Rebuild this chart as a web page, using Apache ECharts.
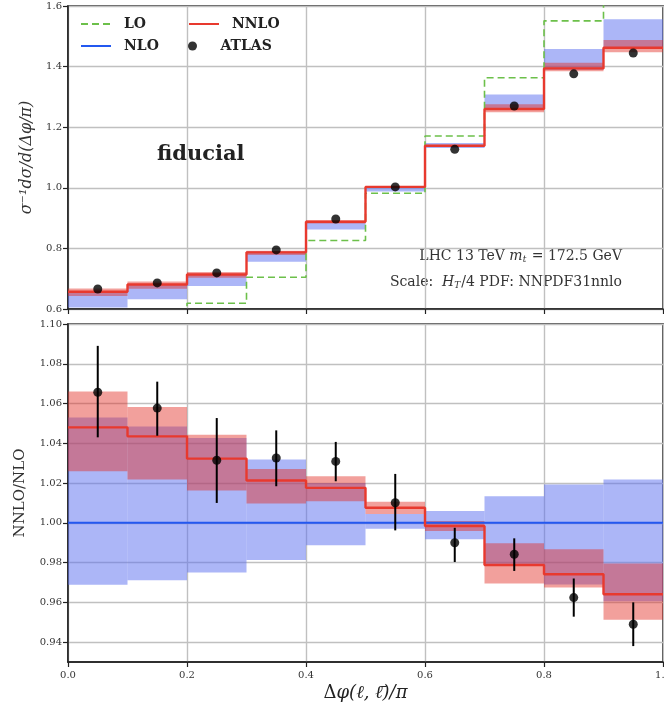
<!DOCTYPE html>
<html><head><meta charset="utf-8">
<script src="https://cdn.jsdelivr.net/npm/echarts@6/dist/echarts.min.js"></script>
<style>html,body{margin:0;padding:0;background:#fff}#c{width:664px;height:713px}</style>
</head><body><div id="c"></div>
<script>
// ---------- data ----------
const binEdges = [0, 0.1, 0.2, 0.3, 0.4, 0.5, 0.6, 0.7, 0.8, 0.9, 1.0];
const binCenters = [0.05, 0.15, 0.25, 0.35, 0.45, 0.55, 0.65, 0.75, 0.85, 0.95];

// top panel: normalised distribution
const topLO      = [0.53, 0.57, 0.619, 0.705, 0.826, 0.982, 1.171, 1.363, 1.551, 1.75];
const topNNLO    = [0.657, 0.681, 0.714, 0.787, 0.888, 1.003, 1.139, 1.260, 1.394, 1.462];
const topNNLOLo  = [0.643, 0.667, 0.703, 0.778, 0.882, 1.000, 1.136, 1.249, 1.385, 1.447];
const topNNLOHi  = [0.668, 0.691, 0.722, 0.792, 0.893, 1.006, 1.142, 1.276, 1.413, 1.488];
const topNLOLo   = [0.605, 0.632, 0.676, 0.756, 0.862, 0.988, 1.131, 1.262, 1.390, 1.460];
const topNLOHi   = [0.656, 0.680, 0.716, 0.790, 0.888, 1.001, 1.148, 1.308, 1.458, 1.556];
const topATLAS   = [0.666, 0.686, 0.719, 0.795, 0.897, 1.003, 1.127, 1.270, 1.376, 1.445];

// bottom panel: ratio to NLO
const ratioNLO     = [1, 1, 1, 1, 1, 1, 1, 1, 1, 1];
const ratioNLOLo   = [0.9688, 0.9711, 0.975, 0.9813, 0.9887, 0.997, 0.9917, 0.979, 0.969, 0.9605];
const ratioNLOHi   = [1.053, 1.0485, 1.0427, 1.0318, 1.020, 1.0045, 1.0059, 1.0134, 1.0193, 1.0218];
const ratioNNLO    = [1.048, 1.0435, 1.0323, 1.0213, 1.0176, 1.0076, 0.9984, 0.9788, 0.9741, 0.9641];
const ratioNNLOLo  = [1.026, 1.0218, 1.0163, 1.0097, 1.0109, 1.0045, 0.9959, 0.9695, 0.9675, 0.9512];
const ratioNNLOHi  = [1.066, 1.0582, 1.0443, 1.0271, 1.0234, 1.0106, 1.0009, 0.9897, 0.9867, 0.9795];
const ratioATLAS   = [1.0657, 1.0577, 1.0315, 1.0326, 1.0309, 1.0101, 0.990, 0.9842, 0.9624, 0.949];
const ratioATLASLo = [1.043, 1.0438, 1.010, 1.0184, 1.0209, 0.9962, 0.9803, 0.9758, 0.9528, 0.938];
const ratioATLASHi = [1.089, 1.071, 1.0527, 1.0465, 1.0407, 1.0246, 0.9975, 0.9922, 0.972, 0.960];

const xTicks = [0, 0.2, 0.4, 0.6, 0.8, 1.0];
const topYTicks = [0.6, 0.8, 1.0, 1.2, 1.4, 1.6];
const ratioYTicks = [0.94, 0.96, 0.98, 1.00, 1.02, 1.04, 1.06, 1.08, 1.10];

// ---------- helpers ----------
const SERIF = 'DejaVu Serif, Liberation Serif, serif';
const BLUE_BAND = 'rgba(90,110,240,0.5)';
const RED_BAND = 'rgba(226,45,36,0.45)';
const RED = '#e8392e', BLUE = '#2358f0', GREEN = '#6cc04a';

function stepData(vals) {
  const d = vals.map((v, i) => [binEdges[i], v]);
  d.push([binEdges[binEdges.length - 1], vals[vals.length - 1]]);
  return d;
}
function bandData(lo, hi) {
  return lo.map((v, i) => [binEdges[i], binEdges[i + 1], v, hi[i]]);
}
function bandRender(color) {
  return function (params, api) {
    const p0 = api.coord([api.value(0), api.value(3)]);
    const p1 = api.coord([api.value(1), api.value(2)]);
    const cs = params.coordSys;
    const r = echarts.graphic.clipRectByRect(
      { x: p0[0], y: p0[1], width: p1[0] - p0[0], height: p1[1] - p0[1] },
      { x: cs.x, y: cs.y, width: cs.width, height: cs.height });
    return r && { type: 'rect', shape: r, style: { fill: color } };
  };
}
function errRender(params, api) {
  const a = api.coord([api.value(0), api.value(1)]);
  const b = api.coord([api.value(0), api.value(2)]);
  return { type: 'line', shape: { x1: a[0], y1: a[1], x2: b[0], y2: b[1] },
           style: { stroke: '#000', lineWidth: 2 } };
}

const axisLabelStyle = { fontFamily: SERIF, fontSize: 10, color: '#333' };
const splitLineStyle = { show: true, lineStyle: { color: '#c0c0c0', width: 1.4 } };
const axisLineStyle = { show: true, lineStyle: { color: '#222', width: 1.6 } };
const legendText = { fontFamily: SERIF, fontWeight: 'bold', fontSize: 14, color: '#222', padding: [0, 0, 0, 8] };

function oneLegend(name, left, top, extra) {
  return Object.assign({ data: [name], left: left, top: top, padding: 0, itemWidth: 30, itemHeight: 12,
    textStyle: legendText, selectedMode: false }, extra || {});
}

const chart = echarts.init(document.getElementById('c'), null, { renderer: 'canvas' });
chart.setOption({
  animation: false,
  backgroundColor: '#fff',
  grid: [
    { left: 68, right: 1, top: 6, height: 303, show: true, borderColor: '#222', borderWidth: 1.6,
      backgroundColor: 'transparent', containLabel: false, outerBoundsMode: 'none' },
    { left: 68, right: 1, top: 324, height: 338, show: true, borderColor: '#222', borderWidth: 1.6,
      backgroundColor: 'transparent', containLabel: false, outerBoundsMode: 'none' }
  ],
  xAxis: [
    { type: 'value', gridIndex: 0, min: 0, max: 1, interval: 0.2,
      axisLine: axisLineStyle, axisTick: { show: true, length: 5, lineStyle: { color: '#222', width: 1.2 } },
      axisLabel: { show: false }, splitLine: splitLineStyle },
    { type: 'value', gridIndex: 1, min: 0, max: 1, interval: 0.2,
      axisLine: axisLineStyle, axisTick: { show: true, length: 5, lineStyle: { color: '#222', width: 1.2 } },
      axisLabel: Object.assign({ margin: 8, formatter: v => v.toFixed(1) }, axisLabelStyle),
      splitLine: splitLineStyle,
      name: '{u|Δ}φ(ℓ, ℓ̄)/π', nameLocation: 'middle', nameGap: 22,
      nameTextStyle: { fontFamily: SERIF, fontSize: 18, fontStyle: 'italic', color: '#222',
        rich: { u: { fontFamily: SERIF, fontSize: 18, fontStyle: 'normal', color: '#222' } } } }
  ],
  yAxis: [
    { type: 'value', gridIndex: 0, min: 0.6, max: 1.6, interval: 0.2,
      axisLine: axisLineStyle, axisTick: { show: true, length: 5, lineStyle: { color: '#222', width: 1.2 } },
      axisLabel: Object.assign({ margin: 6, formatter: v => v.toFixed(1) }, axisLabelStyle),
      splitLine: splitLineStyle,
      name: 'σ⁻¹dσ/d(Δφ/π)', nameLocation: 'middle', nameGap: 33, nameRotate: 90,
      nameTextStyle: { fontFamily: SERIF, fontSize: 16, fontStyle: 'italic', color: '#333' } },
    { type: 'value', gridIndex: 1, min: 0.93, max: 1.10,
      axisLine: axisLineStyle,
      axisTick: { show: true, length: 5, customValues: ratioYTicks, lineStyle: { color: '#222', width: 1.2 } },
      axisLabel: Object.assign({ margin: 6, customValues: ratioYTicks, formatter: v => v.toFixed(2) }, axisLabelStyle),
      splitLine: splitLineStyle,
      name: 'NNLO/NLO', nameLocation: 'middle', nameGap: 40, nameRotate: 90,
      nameTextStyle: { fontFamily: SERIF, fontSize: 15, color: '#333' } }
  ],
  legend: [
    oneLegend('LO', 80, 17, { data: [{ name: 'LO', itemStyle: { opacity: 0 } }] }),
    oneLegend('NNLO', 188, 17, { data: [{ name: 'NNLO', itemStyle: { opacity: 0 } }] }),
    oneLegend('NLO', 80, 39, { data: [{ name: 'NLO', itemStyle: { opacity: 0 } }] }),
    oneLegend('ATLAS', 188, 39, { itemHeight: 9, textStyle: Object.assign({}, legendText, { padding: [0, 0, 0, 8] }) })
  ],
  graphic: [
    { type: 'text', left: 157, top: 144, style: { text: 'fiducial', font: 'bold 21px ' + SERIF, fill: '#222' } },
    { type: 'text', x: 622, y: 248, style: { text: 'LHC 13 TeV {i|m}{s|t} = 172.5 GeV', textAlign: 'right',
        font: '14px ' + SERIF, fill: '#333',
        rich: { i: { fontFamily: SERIF, fontSize: 14, fontStyle: 'italic', fill: '#333' },
                s: { fontFamily: SERIF, fontSize: 9, fontStyle: 'italic', verticalAlign: 'bottom', padding: [7, 1, 0, 0], fill: '#333' } } } },
    { type: 'text', x: 622, y: 274, style: { text: 'Scale:  {i|H}{s|T}/4 PDF: NNPDF31nnlo', textAlign: 'right',
        font: '14px ' + SERIF, fill: '#333',
        rich: { i: { fontFamily: SERIF, fontSize: 14, fontStyle: 'italic', fill: '#333' },
                s: { fontFamily: SERIF, fontSize: 9, fontStyle: 'italic', verticalAlign: 'bottom', padding: [7, 1, 0, 0], fill: '#333' } } } }
  ],
  series: [
    // ---- top panel ----
    { name: 'NLO band', type: 'custom', xAxisIndex: 0, yAxisIndex: 0, renderItem: bandRender(BLUE_BAND),
      encode: { x: [0, 1], y: [2, 3] }, data: bandData(topNLOLo, topNLOHi), z: 1, silent: true },
    { name: 'NNLO band', type: 'custom', xAxisIndex: 0, yAxisIndex: 0, renderItem: bandRender(RED_BAND),
      encode: { x: [0, 1], y: [2, 3] }, data: bandData(topNNLOLo, topNNLOHi), z: 2, silent: true },
    { name: 'LO', type: 'line', xAxisIndex: 0, yAxisIndex: 0, step: 'end', symbol: 'none', clip: true,
      lineStyle: { color: GREEN, width: 1.6, type: [7, 4] }, itemStyle: { color: GREEN },
      data: stepData(topLO), z: 3 },
    { name: 'NNLO', type: 'line', xAxisIndex: 0, yAxisIndex: 0, step: 'end', symbol: 'none', clip: true,
      lineStyle: { color: RED, width: 2.4 }, itemStyle: { color: RED },
      data: stepData(topNNLO), z: 4 },
    { name: 'ATLAS', type: 'scatter', xAxisIndex: 0, yAxisIndex: 0, symbol: 'circle', symbolSize: 9,
      itemStyle: { color: '#000' }, data: binCenters.map((x, i) => [x, topATLAS[i]]), z: 6 },
    // ---- bottom panel ----
    { name: 'NLO band r', type: 'custom', xAxisIndex: 1, yAxisIndex: 1, renderItem: bandRender(BLUE_BAND),
      encode: { x: [0, 1], y: [2, 3] }, data: bandData(ratioNLOLo, ratioNLOHi), z: 1, silent: true },
    { name: 'NNLO band r', type: 'custom', xAxisIndex: 1, yAxisIndex: 1, renderItem: bandRender(RED_BAND),
      encode: { x: [0, 1], y: [2, 3] }, data: bandData(ratioNNLOLo, ratioNNLOHi), z: 2, silent: true },
    { name: 'NLO', type: 'line', xAxisIndex: 1, yAxisIndex: 1, step: 'end', symbol: 'none',
      lineStyle: { color: BLUE, width: 2 }, itemStyle: { color: BLUE },
      data: stepData(ratioNLO), z: 3 },
    { name: 'NNLO', type: 'line', xAxisIndex: 1, yAxisIndex: 1, step: 'end', symbol: 'none',
      lineStyle: { color: RED, width: 2.4 }, itemStyle: { color: RED },
      data: stepData(ratioNNLO), z: 4 },
    { name: 'ATLAS err', type: 'custom', xAxisIndex: 1, yAxisIndex: 1, renderItem: errRender,
      encode: { x: 0, y: [1, 2] }, data: binCenters.map((x, i) => [x, ratioATLASLo[i], ratioATLASHi[i]]), z: 5, silent: true },
    { name: 'ATLAS', type: 'scatter', xAxisIndex: 1, yAxisIndex: 1, symbol: 'circle', symbolSize: 9,
      itemStyle: { color: '#000' }, data: binCenters.map((x, i) => [x, ratioATLAS[i]]), z: 6 }
  ]
});
</script></body></html>
